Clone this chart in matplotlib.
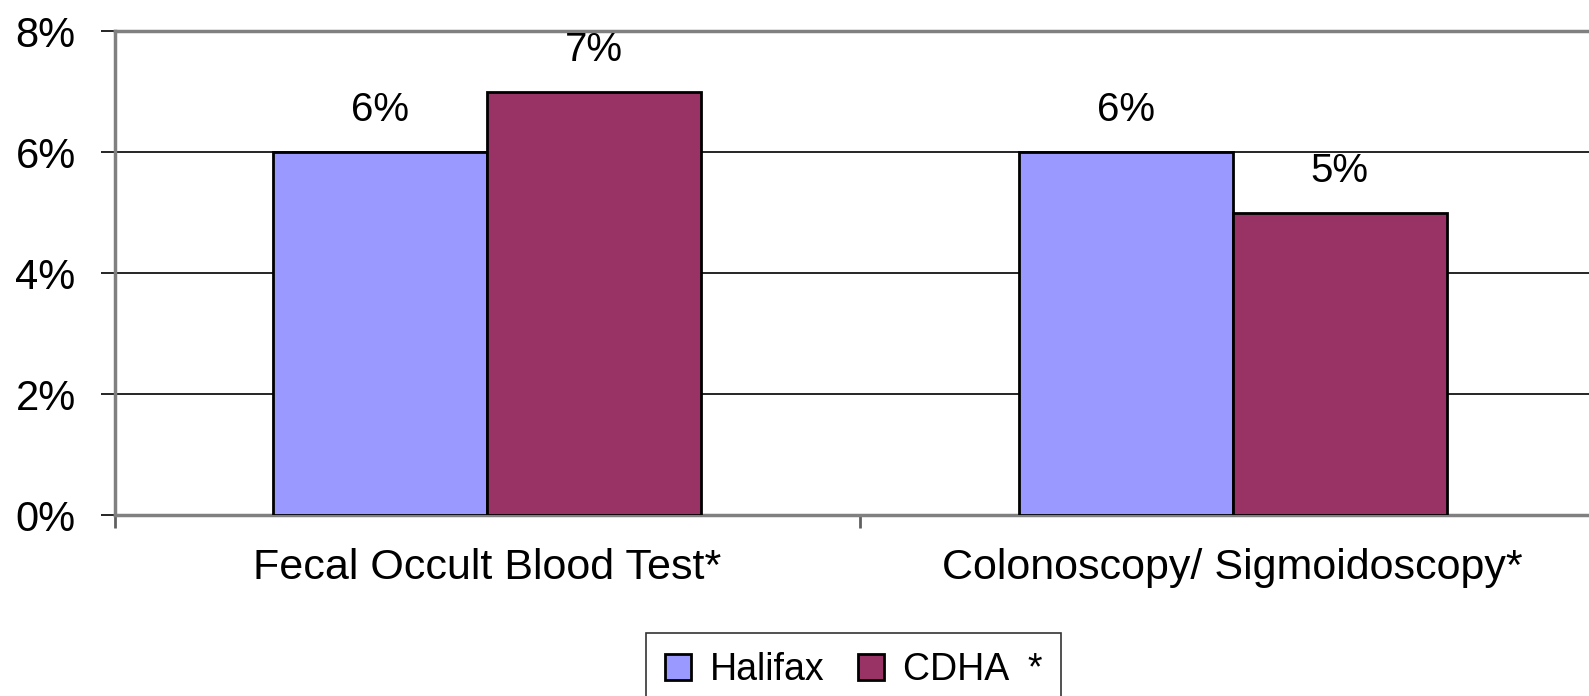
import numpy as np
import matplotlib.pyplot as plt
from matplotlib.patches import Patch

plt.rcParams['font.family'] = ['Liberation Sans', 'DejaVu Sans']

categories = ['Fecal Occult Blood Test*', 'Colonoscopy/ Sigmoidoscopy*']
halifax = [6, 6]
cdha = [7, 5]
series_names = ['Halifax', 'CDHA  *']
colors = ['#9999FF', '#993366']

fig = plt.figure(figsize=(15.89, 6.96), dpi=100)
ax = fig.add_axes([0.0721, 0.260, 0.9383, 0.6949])

x = np.arange(len(categories))
w = 0.287
b1 = ax.bar(x - w / 2, halifax, w, color=colors[0], edgecolor='black', linewidth=2, zorder=3)
b2 = ax.bar(x + w / 2, cdha, w, color=colors[1], edgecolor='black', linewidth=2, zorder=3)

for bars, vals in [(b1, halifax), (b2, cdha)]:
    for r, v in zip(bars, vals):
        ax.annotate(f'{v}%', (r.get_x() + r.get_width() / 2, v), xytext=(0, 42),
                    textcoords='offset pixels', ha='center', va='center', fontsize=29)

ax.set_xlim(-0.5, 1.5)
ax.set_ylim(0, 8)
ax.set_yticks([0, 2, 4, 6, 8])
ax.set_yticklabels([f'{t}%' for t in [0, 2, 4, 6, 8]], fontsize=30)
ax.yaxis.grid(True, color='black', linewidth=1.2, zorder=0)
ax.tick_params(axis='y', length=10, width=1.2, color='black', pad=18)

ax.set_xticks(x)
ax.set_xticklabels(categories, fontsize=31)
ax.tick_params(axis='x', which='major', length=0, pad=24)
ax.set_xticks([-0.5, 0.5, 1.5], minor=True)
ax.tick_params(axis='x', which='minor', length=9, width=2, color='#606060')

for s in ['left', 'top', 'bottom', 'right']:
    ax.spines[s].set_color('#808080')
    ax.spines[s].set_linewidth(2.5)

handles = [Patch(facecolor=c, edgecolor='black', linewidth=2) for c in colors]
leg = fig.legend(handles, series_names, loc='upper center', bbox_to_anchor=(0.5373, 0.0905),
                 ncol=2, fontsize=27, frameon=True, fancybox=False, edgecolor='black',
                 handlelength=0.7, handleheight=0.7, handletextpad=0.5, columnspacing=0.9,
                 borderpad=0.5, borderaxespad=0)
leg.get_frame().set_linewidth(1.2)

fig.savefig('out.png', dpi=100)
